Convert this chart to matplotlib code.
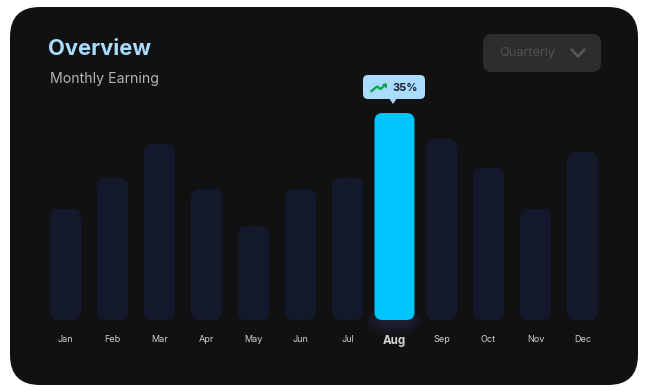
import matplotlib
matplotlib.use("Agg")
import matplotlib.pyplot as plt
from matplotlib.patches import FancyBboxPatch, Polygon

plt.rcParams["font.family"] = ["Inter", "DejaVu Sans"]

# Values (bar height in pixels)
months = ["Jan", "Feb", "Mar", "Apr", "May", "Jun", "Jul", "Aug", "Sep", "Oct", "Nov", "Dec"]
earnings = [111, 142, 176, 131, 94, 131, 142, 207, 181, 152, 111, 168]
highlight = "Aug"
growth_label = "35%"

W, H = 650, 392
fig = plt.figure(figsize=(W / 100, H / 100), dpi=100, facecolor="white")

# Background layer, in pixel coordinates
bg = fig.add_axes([0, 0, 1, 1])
bg.set_xlim(0, W)
bg.set_ylim(H, 0)
bg.axis("off")


def rounded(ax, x0, y0, x1, y1, r, color, **kw):
    patch = FancyBboxPatch((x0 + r, y0 + r), x1 - x0 - 2 * r, y1 - y0 - 2 * r,
                           boxstyle=f"round,pad={r},rounding_size={r}",
                           fc=color, ec="none", **kw)
    ax.add_patch(patch)
    return patch


# Card
rounded(bg, 10, 7, 638, 385, 30, "#111111")

# Title
bg.text(48, 49, "Overview", color="#a9dcff", fontsize=15.8, fontweight="bold", va="center", ha="left")
bg.text(50, 78.5, "Monthly Earning", color="#b4b4b4", fontsize=10.2, va="center", ha="left")

# Dropdown
rounded(bg, 483, 34, 601, 72, 9, "#2d2d2d")
bg.text(499, 53, "Quarterly", color="#505050", fontsize=9.2, va="center", ha="left")
bg.plot([571.5, 578, 584.5], [49.5, 56.5, 49.5], color="#595959", lw=1.7, solid_capstyle="round")

# Glow under the highlighted bar
idx = months.index(highlight)
cx = 65.5 + 47 * idx
for grow in range(1, 19):
    rounded(bg, cx - 12 - grow, 308, cx + 12 + grow, 318 + grow, 8 + grow * 0.9, "#50507f", alpha=0.03, zorder=1)

# Tooltip
rounded(bg, 363, 75, 425, 99, 5, "#aadcff", zorder=5)
bg.add_patch(Polygon([[389, 98], [397, 98], [393, 104]], fc="#aadcff", ec="none", zorder=5))
bg.plot([371.5, 377, 380.5, 385.5], [91, 86.5, 89, 84.5], color="#0ba64f", lw=1.7, zorder=6)
bg.add_patch(Polygon([[382, 83.5], [387, 83.5], [387, 88.5]], fc="#0ba64f", ec="none", zorder=6))
bg.text(392, 88, growth_label, color="#1c2230", fontsize=8, fontweight="bold", va="center", ha="left", zorder=6)

# Bars
ax = fig.add_axes([42 / W, (H - 320) / H, 564 / W, 210 / H])
ax.set_xlim(-0.5, 11.5)
ax.set_ylim(0, 210)
ax.patch.set_alpha(0)
for s in ax.spines.values():
    s.set_visible(False)
ax.yaxis.set_visible(False)

xr = 8 / 47
for i, (m, v) in enumerate(zip(months, earnings)):
    is_high = m == highlight
    bar_w = (40 if is_high else 31) / 47
    c = "#00c5ff" if is_high else "#14182c"
    ax.add_patch(FancyBboxPatch((i - bar_w / 2 + xr, 8), bar_w - 2 * xr, v - 16,
                                boxstyle=f"round,pad={xr},rounding_size={xr}",
                                mutation_aspect=47, fc=c, ec="none"))

ax.set_xticks(range(len(months)))
ax.set_xticklabels(months)
ax.tick_params(axis="x", length=0, pad=11, labelsize=6.5, labelcolor="#d0d0d0")
for lab in ax.get_xticklabels():
    if lab.get_text() == highlight:
        lab.set_fontweight("bold")
        lab.set_fontsize(8.3)
        lab.set_color("#d8d8d8")

fig.savefig("out.png", dpi=100)
